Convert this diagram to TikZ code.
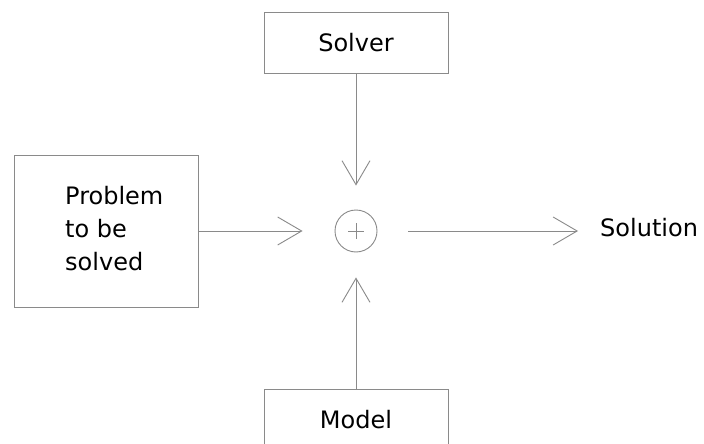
\documentclass[tikz,border=0pt]{standalone}
\usepackage{fontspec}
\setmainfont{DejaVu Sans}
\usetikzlibrary{arrows.meta,calc}
\definecolor{edge}{HTML}{8A8A8A}
\begin{document}
\begin{tikzpicture}[x=1pt,y=-1pt,
  block/.style={draw=edge,line width=0.9pt,fill=white,inner sep=0pt,font=\fontsize{24}{32}\selectfont},
  link/.style={draw=edge,line width=0.9pt,-{Straight Barb[length=24pt,width=28pt,line width=0.9pt]}},
  label/.style={inner sep=0pt,font=\fontsize{24}{32}\selectfont}]
  \useasboundingbox[fill=white] (0,0) rectangle (704,444);

  % boxes
  \node[block,minimum width=184pt,minimum height=61pt] (solver) at (356,42.5) {Solver};
  \node[block,minimum width=184pt,minimum height=152pt] (problem) at (106,231) {};
  \node[label,anchor=north west,align=left,font=\fontsize{24}{33}\selectfont] (ptext) at (65,186) {Problem\\to be\\solved};
  \node[block,minimum width=184pt,minimum height=61pt] (model) at (356,419.5) {Model};

  % summing junction
  \node[draw=edge,line width=0.9pt,circle,minimum size=42pt,inner sep=0pt] (sum) at (356,231) {};
  \draw[edge,line width=0.8pt] ($(sum.center)+(-8,0)$) -- ($(sum.center)+(8,0)$);
  \draw[edge,line width=0.8pt] ($(sum.center)+(0,-8)$) -- ($(sum.center)+(0,8)$);

  \node[label,anchor=west] (sol) at (600,228) {Solution};

  % connectors
  \draw[link,shorten >=24pt] (solver) -- (sum);
  \draw[link,shorten >=32pt] (problem) -- (sum);
  \draw[link,shorten >=25pt] (model) -- (sum);
  \draw[link,shorten <=31pt,shorten >=22pt] (sum.east) -- (sol.west |- sum.east);
\end{tikzpicture}
\end{document}
